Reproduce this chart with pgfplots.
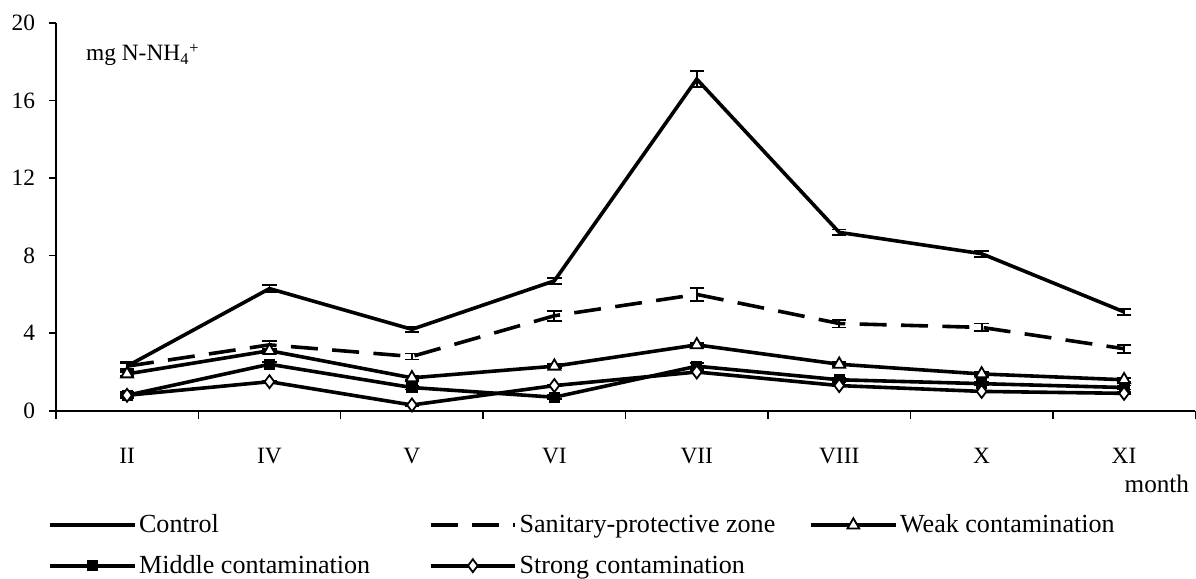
\documentclass[border=0pt]{standalone}
\usepackage{fontspec}
\setmainfont{Liberation Serif}
\usepackage{pgfplots}
\pgfplotsset{compat=1.18}
\usepackage{pgfplotstable}

\pgfplotstableread{
x y e
0 2.3 0.15
1 6.3 0.18
2 4.2 0.12
3 6.7 0.15
4 17.1 0.4
5 9.2 0.15
6 8.1 0.15
7 5.1 0.15
}\control
\pgfplotstableread{
x y e
0 2.3 0.2
1 3.4 0.2
2 2.8 0.15
3 4.9 0.25
4 6.0 0.35
5 4.5 0.2
6 4.3 0.2
7 3.2 0.2
}\sanitary
\pgfplotstableread{
x y e
0 1.9 0.1
1 3.1 0.1
2 1.7 0.1
3 2.3 0.1
4 3.4 0.1
5 2.4 0.1
6 1.9 0.1
7 1.6 0.1
}\weak
\pgfplotstableread{
x y e
0 0.8 0.15
1 2.4 0.1
2 1.2 0.1
3 0.7 0.1
4 2.3 0.15
5 1.6 0.1
6 1.4 0.1
7 1.2 0.1
}\middle
\pgfplotstableread{
x y e
0 0.8 0.05
1 1.5 0.05
2 0.3 0.05
3 1.3 0.05
4 2.0 0.05
5 1.3 0.05
6 1.0 0.05
7 0.9 0.05
}\strong

\begin{document}
\begin{tikzpicture}
\begin{axis}[
  scale only axis,
  width=633.3pt, height=215.6pt,
  xmin=-0.5, xmax=7.5, ymin=0, ymax=20,
  axis lines=left,
  axis line style={line width=0.8pt, -},
  clip=false,
  xtick={0,...,7},
  xticklabels={II,IV,V,VI,VII,VIII,X,XI},
  major x tick style={draw=none},
  minor xtick={-0.5,0.5,...,7.5},
  minor x tick style={line width=0.8pt, black},
  ytick={0,4,...,20},
  tick style={line width=0.8pt, black},
  tick align=outside,
  major tick length=4pt,
  minor tick length=4.5pt,
  xticklabel style={font=\fontsize{13}{15}\selectfont, yshift=-13pt},
  yticklabel style={font=\fontsize{13}{15}\selectfont, xshift=-4pt},
  /pgf/number format/assume math mode=true,
  legend columns=3,
  legend style={draw=none, fill=none, at={(-0.007,-0.26)}, anchor=north west,
    font=\fontsize{14.5}{16}\selectfont, inner sep=0pt,
    /tikz/every even column/.append style={column sep=0pt},
    row sep=8pt,
    nodes={inner sep=1.5pt, anchor=west}},
  legend cell align=left,
  legend image code/.code={\draw[mark repeat=2,mark phase=2,#1] plot coordinates {(0pt,0pt) (23.5pt,0pt) (47pt,0pt)};},
  every axis plot/.append style={line width=2pt, black},
  error bars/y dir=both, error bars/y explicit,
  error bars/error bar style={line width=1pt, solid},
  error bars/error mark options={rotate=90, mark size=4pt, line width=1pt, solid},
]
\addplot[no marks] table[x=x,y=y,y error=e]{\control};
\addlegendentry{\makebox[159.5pt][l]{Control}}
\addplot[no marks, dash pattern=on 15pt off 8pt] table[x=x,y=y,y error=e]{\sanitary};
\addlegendentry{\makebox[159.5pt][l]{Sanitary-protective zone}}
\addplot[mark=triangle*, mark size=3.8pt, mark options={fill=white, solid, line width=1pt}] table[x=x,y=y,y error=e]{\weak};
\addlegendentry{Weak contamination}
\addplot[mark=square*, mark size=2.8pt, mark options={fill=black, solid, line width=0.5pt}] table[x=x,y=y,y error=e]{\middle};
\addlegendentry{\makebox[159.5pt][l]{Middle contamination}}
\addplot[mark=diamond*, mark size=3.6pt, mark options={fill=white, solid, line width=1pt}] table[x=x,y=y,y error=e]{\strong};
\addlegendentry{Strong contamination}
\node[anchor=west, font=\fontsize{13}{15}\selectfont, inner sep=0pt] at (axis cs:-0.29,18.35) {mg N-NH\textsubscript{4}\textsuperscript{+}};
\node[font=\fontsize{14}{16}\selectfont, inner sep=0pt] at (axis cs:7.23,-3.75) {month};
\path (rel axis cs:-0.049,1.059) (rel axis cs:1,-0.4175);
\end{axis}
\end{tikzpicture}
\end{document}
